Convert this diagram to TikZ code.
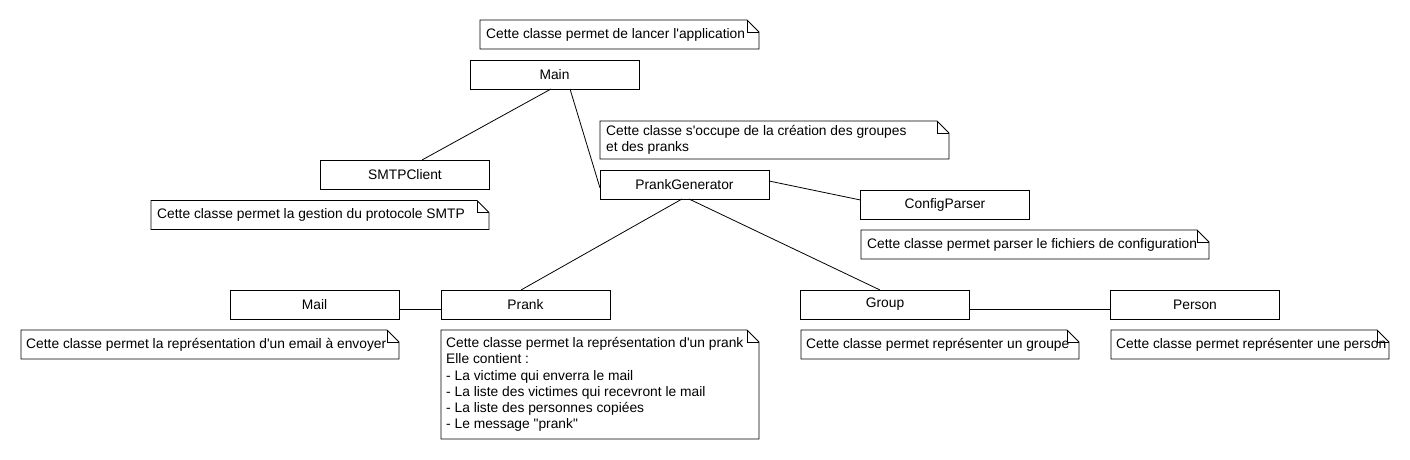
\documentclass[tikz,border=0pt]{standalone}
\usepackage{fontspec}
\setmainfont{Liberation Sans}[Ligatures=TeXOff]
\usetikzlibrary{calc}
\newcommand\drawnote[1]{%
  \draw[noteline] (#1.north west) -- ([xshift=-12pt]#1.north east) -- ([yshift=-12pt]#1.north east) -- (#1.south east) -- (#1.south west) -- cycle;
  \draw[noteline] ([xshift=-12pt]#1.north east) -- ([xshift=-12pt,yshift=-12pt]#1.north east) -- ([yshift=-12pt]#1.north east);}
\begin{document}
\begin{tikzpicture}[x=1pt,y=-1pt,
  every node/.style={font=\fontsize{13.8}{16.3}\selectfont},
  cls/.style={draw, line width=0.8pt, minimum width=169pt, minimum height=29pt, inner sep=0pt, outer sep=0pt},
  notebox/.style={inner sep=0pt, outer sep=0pt},
  notetext/.style={anchor=west, align=left, inner sep=0pt},
  noteline/.style={line width=0.8pt},
  conn/.style={line width=0.8pt}
]
\fill[white] (0,0) rectangle (1410,460);
\useasboundingbox (0,0) rectangle (1410,460);

% classes
\node[cls] (Main) at (554.5,74.5) {Main};
\node[cls] (SMTPClient) at (405,174.5) {SMTPClient};
\node[cls] (PG) at (684.5,184.5) {PrankGenerator};
\node[cls] (Config) at (945,205) {ConfigParser};
\node[cls] (Mail) at (314.5,304.5) {Mail};
\node[cls] (Prank) at (525.5,304.5) {Prank};
\node[cls] (Group) at (885,304.5) {Group};
\node[cls] (Person) at (1195,304.5) {Person};

% notes
\node[notebox, minimum width=279pt, minimum height=29pt] (nMain) at (619.5,34.5) {};
\node[notetext] (tMain) at ([xshift=6pt]nMain.west) {Cette classe permet de lancer l'application};
\drawnote{nMain}

\node[notebox, minimum width=349pt, minimum height=38pt] (nPG) at (774.5,140) {};
\node[notetext] (tPG) at ([xshift=6pt]nPG.west) {Cette classe s'occupe de la création des groupes\\et des pranks};
\drawnote{nPG}

\node[notebox, minimum width=338pt, minimum height=29pt] (nSMTP) at (320,215) {};
\node[notetext] (tSMTP) at ([xshift=6pt]nSMTP.west) {Cette classe permet la gestion du protocole SMTP};
\drawnote{nSMTP}

\node[notebox, minimum width=348pt, minimum height=29pt] (nConfig) at (1035,244.5) {};
\node[notetext] (tConfig) at ([xshift=6pt]nConfig.west) {Cette classe permet parser le fichiers de configuration};
\drawnote{nConfig}

\node[notebox, minimum width=378pt, minimum height=29pt] (nMail) at (210,344.5) {};
\node[notetext] (tMail) at ([xshift=5pt]nMail.west) {Cette classe permet la représentation d'un email à envoyer};
\drawnote{nMail}

\node[notebox, minimum width=318pt, minimum height=109pt] (nPrank) at (600,384.5) {};
\node[notetext] (tPrank) at ([xshift=5pt]nPrank.west) {Cette classe permet la représentation d'un prank\\Elle contient :\\- La victime qui enverra le mail\\- La liste des victimes qui recevront le mail\\- La liste des personnes copiées\\- Le message "prank"};
\drawnote{nPrank}

\node[notebox, minimum width=278pt, minimum height=29pt] (nGroup) at (940,344.5) {};
\node[notetext] (tGroup) at ([xshift=5pt]nGroup.west) {Cette classe permet représenter un groupe};
\drawnote{nGroup}

\node[notebox, minimum width=278pt, minimum height=29pt] (nPerson) at (1250,344.5) {};
\node[notetext] (tPerson) at ([xshift=5pt]nPerson.west) {Cette classe permet représenter une person};
\drawnote{nPerson}

% connectors
\draw[conn] ([xshift=-3.5pt]Main.south) -- ([xshift=17pt]SMTPClient.north);
\draw[conn] ([xshift=15.5pt]Main.south) -- ([yshift=-3.5pt]PG.west);
\draw[conn] ([yshift=3.5pt]PG.east) -- ([yshift=5pt]Config.west);
\draw[conn] ([xshift=-2.5pt]PG.south) -- ([xshift=-4.5pt]Prank.north);
\draw[conn] ([xshift=4.5pt]PG.south) -- ([xshift=-5pt]Group.north);
\draw[conn] ([yshift=-5pt]Mail.east) -- ([yshift=-5pt]Prank.west);
\draw[conn] ([yshift=-5pt]Group.east) -- ([yshift=-5pt]Person.west);
\end{tikzpicture}
\end{document}
